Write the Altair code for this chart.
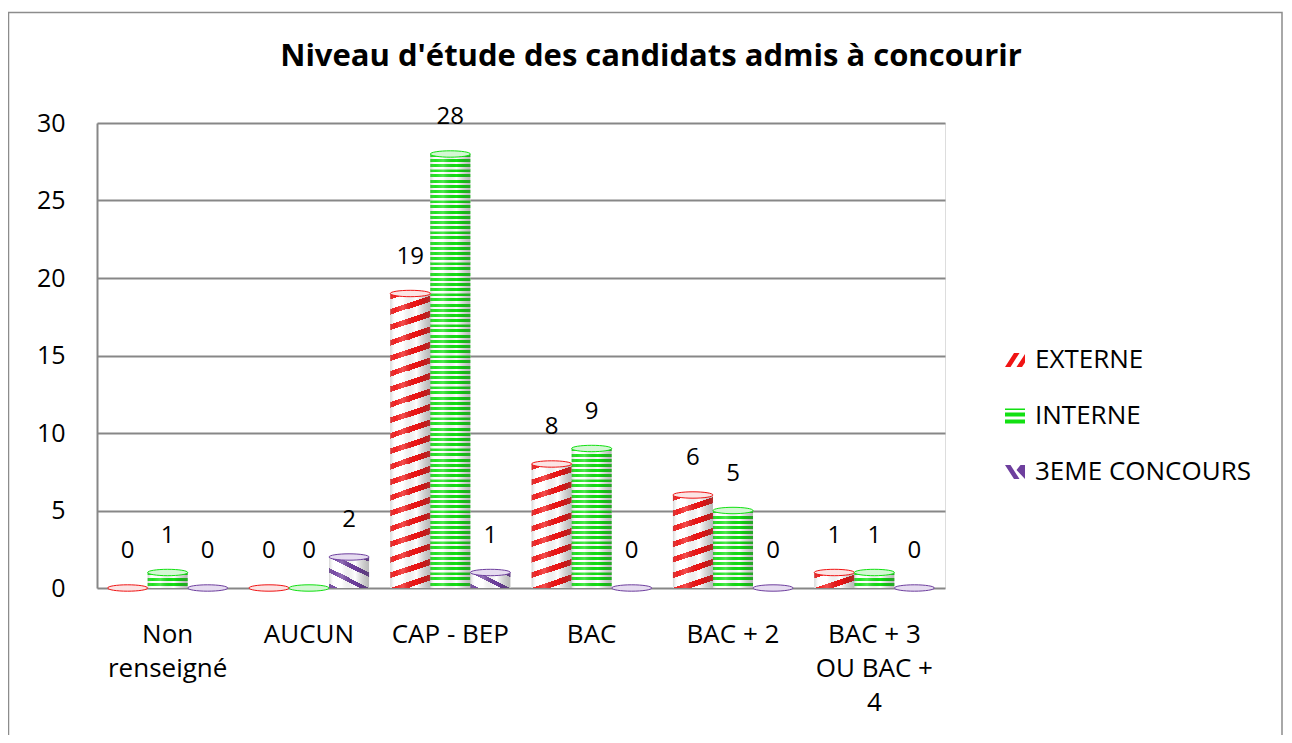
import altair as alt
import pandas as pd

# ---- data ----
categories = ["Non renseigné", "AUCUN", "CAP - BEP", "BAC", "BAC + 2", "BAC + 3 OU BAC + 4"]
series_names = ["EXTERNE", "INTERNE", "3EME CONCOURS"]
externe = [0, 0, 19, 8, 6, 1]
interne = [1, 0, 28, 9, 5, 1]
troisieme = [0, 2, 1, 0, 0, 0]
y_ticks = [0, 5, 10, 15, 20, 25, 30]
title_text = "Niveau d'étude des candidats admis à concourir"

rows = []
for s, vals in zip(series_names, [externe, interne, troisieme]):
    for c, v in zip(categories, vals):
        rows.append({"category": c, "series": s, "value": v})
df = pd.DataFrame(rows)

FONT = "Open Sans"
RED = "#f01414"
GREEN = "#12e012"
PURPLE = "#6e3f9e"
GRID = "#878787"

PL, PT = 89, 115          # padding left / top  -> plot origin at (97,123)
W, H = 848, 465

def stops(pairs):
    return [alt.GradientStop(offset=o, color=c) for o, c in pairs]

# red spiral stripes "/" (tiles vertically every 1 unit)
red_grad = alt.Gradient(
    gradient="linear", x1=0, y1=0, x2=0.94, y2=1.1,
    stops=stops([(0, RED), (0.2, RED), (0.2, "white"), (0.525, "white"),
                 (0.525, RED), (0.725, RED), (0.725, "white"), (1, "white")]))
# purple stripes "\"
pur_grad = alt.Gradient(
    gradient="linear", x1=1, y1=0, x2=-0.15, y2=0.9,
    stops=stops([(0, PURPLE), (0.13, PURPLE), (0.13, "white"), (0.421, "white"),
                 (0.421, PURPLE), (0.551, PURPLE), (0.551, "white"), (0.842, "white"),
                 (0.842, PURPLE), (0.972, PURPLE), (0.972, "white"), (1, "white")]))
# green horizontal stripes, 3 per unit
g = []
for k in range(3):
    a = k / 3
    g += [(a, GREEN), (a + 0.19, GREEN), (a + 0.19, "white"), (a + 1 / 3, "white")]
green_grad = alt.Gradient(gradient="linear", x1=0, y1=0, x2=0, y2=1, stops=stops(g))

shade_grad = alt.Gradient(
    gradient="linear", x1=0, y1=0, x2=1, y2=0,
    stops=stops([(0, "rgba(110,110,110,0.30)"), (0.12, "rgba(255,255,255,0.05)"),
                 (0.32, "rgba(255,255,255,0.25)"), (0.65, "rgba(0,0,0,0)"),
                 (1, "rgba(80,80,80,0.40)")]))

x_enc = alt.X("category:N", sort=categories,
              scale=alt.Scale(domain=categories, paddingInner=0.15, paddingOuter=0.075),
              axis=alt.Axis(title=None, labelAngle=0, domain=False, ticks=False, tickSize=0,
                            labelPadding=33, labelFontSize=26, labelFont=FONT,
                            labelColor="black", labelLineHeight=34, labelLimit=0,
                            labelExpr="datum.label == 'Non renseigné' ? ['Non', 'renseigné'] : "
                                      "datum.label == 'BAC + 3 OU BAC + 4' ? ['BAC + 3', 'OU BAC +', '4'] : datum.label"))
xo_enc = alt.XOffset("series:N", sort=series_names,
                     scale=alt.Scale(domain=series_names, paddingInner=0, paddingOuter=0))
y_scale = alt.Scale(domain=[0, 30], nice=False, zero=True)
y_axis = alt.Axis(title=None, values=y_ticks, grid=True, gridColor=GRID, gridWidth=2,
                  domain=True, domainColor=GRID, domainWidth=2, ticks=False, tickSize=0,
                  labelPadding=32, labelFontSize=25, labelFont=FONT, labelColor="black")

def Y(field):
    return alt.Y(field, scale=y_scale, axis=y_axis, title=None)

base = alt.Chart(df)

frame = alt.Chart(alt.Data(values=[{"a": 1}])).mark_rect(
    fillOpacity=0, stroke="#8c8c8c", strokeWidth=1.5
).encode(x=alt.value(-PL + 0.5), x2=alt.value(1185), y=alt.value(-110.5), y2=alt.value(700))

title = alt.Chart(alt.Data(values=[{"t": title_text}])).mark_text(
    font=FONT, fontSize=31, fontWeight="bold", color="black", align="center", baseline="middle"
).encode(x=alt.value(554), y=alt.value(-66), text="t:N")

bg = base.transform_filter("datum.value > 0").mark_bar(color="white").encode(
    x=x_enc, xOffset=xo_enc, y=Y("value:Q"))

layers = [frame, title, bg]
for s, grad in zip(series_names, [red_grad, green_grad, pur_grad]):
    pieces = base.transform_filter(f"datum.series == '{s}'").transform_calculate(
        p="sequence(0, datum.value)").transform_flatten(["p"]).transform_calculate(
        p2="min(datum.p + 1.03, datum.value)").mark_bar(fill=grad, strokeWidth=0).encode(
        x=x_enc, xOffset=xo_enc, y=Y("p:Q"), y2="p2:Q")
    layers.append(pieces)

shade = base.transform_filter("datum.value > 0").mark_bar(fill=shade_grad, strokeWidth=0).encode(
    x=x_enc, xOffset=xo_enc, y=Y("value:Q"))
layers.append(shade)

ELL = "M-1,0 A1,0.16 0 1,0 1,0 A1,0.16 0 1,0 -1,0 Z"
for s, col, light in zip(series_names, [RED, GREEN, PURPLE], ["#fbe4e4", "#d4f7d4", "#e6dcf0"]):
    cap = base.transform_filter(f"datum.series == '{s}'").mark_point(
        shape=ELL, size=1600, filled=True, fill=light, stroke=col, strokeWidth=1, opacity=1
    ).encode(x=x_enc, xOffset=xo_enc, y=Y("value:Q"))
    layers.append(cap)

labels = base.mark_text(dy=-37, fontSize=24, font=FONT, color="black").encode(
    x=x_enc, xOffset=xo_enc, y=Y("value:Q"), text="value:Q")
layers.append(labels)

LEG_RED = "M-1,0.7 L-0.1,-0.7 L0.45,-0.7 L-0.45,0.7 Z M0.15,0.7 L1,-0.6 L1,0.25 L0.7,0.7 Z"
LEG_GRN = "M-1,-0.75 L1,-0.75 L1,-0.6 L-1,-0.6 Z M-1,-0.35 L1,-0.35 L1,0.05 L-1,0.05 Z M-1,0.35 L1,0.35 L1,0.75 L-1,0.75 Z"
LEG_PUR = "M-1,-0.7 L-0.45,-0.7 L0.45,0.7 L-0.1,0.7 Z M0.15,-0.2 L0.55,-0.7 L1,-0.7 L1,0.7 Z"
legend_layer = base.transform_filter("false").mark_point(filled=True, opacity=1).encode(
    color=alt.Color("series:N", scale=alt.Scale(domain=series_names, range=[RED, GREEN, PURPLE]),
                    legend=alt.Legend(title=None, orient="none", legendX=905, legendY=224,
                                      labelFontSize=26, labelFont=FONT, labelColor="black",
                                      labelLimit=0, symbolSize=400, symbolStrokeWidth=0,
                                      rowPadding=30, labelOffset=7, padding=0, symbolOpacity=1)),
    shape=alt.Shape("series:N", scale=alt.Scale(domain=series_names, range=[LEG_RED, LEG_GRN, LEG_PUR]),
                    legend=None))
layers.append(legend_layer)

chart = alt.layer(*layers).properties(
    width=W, height=H,
    autosize=alt.AutoSizeParams(type="none"),
    padding={"left": PL, "top": PT, "right": 1276 - PL - W, "bottom": 727 - PT - H},
).configure_view(stroke="transparent", strokeWidth=0).configure(background="white")

chart.save("out.html", embed_options={"renderer": "svg", "actions": False})
